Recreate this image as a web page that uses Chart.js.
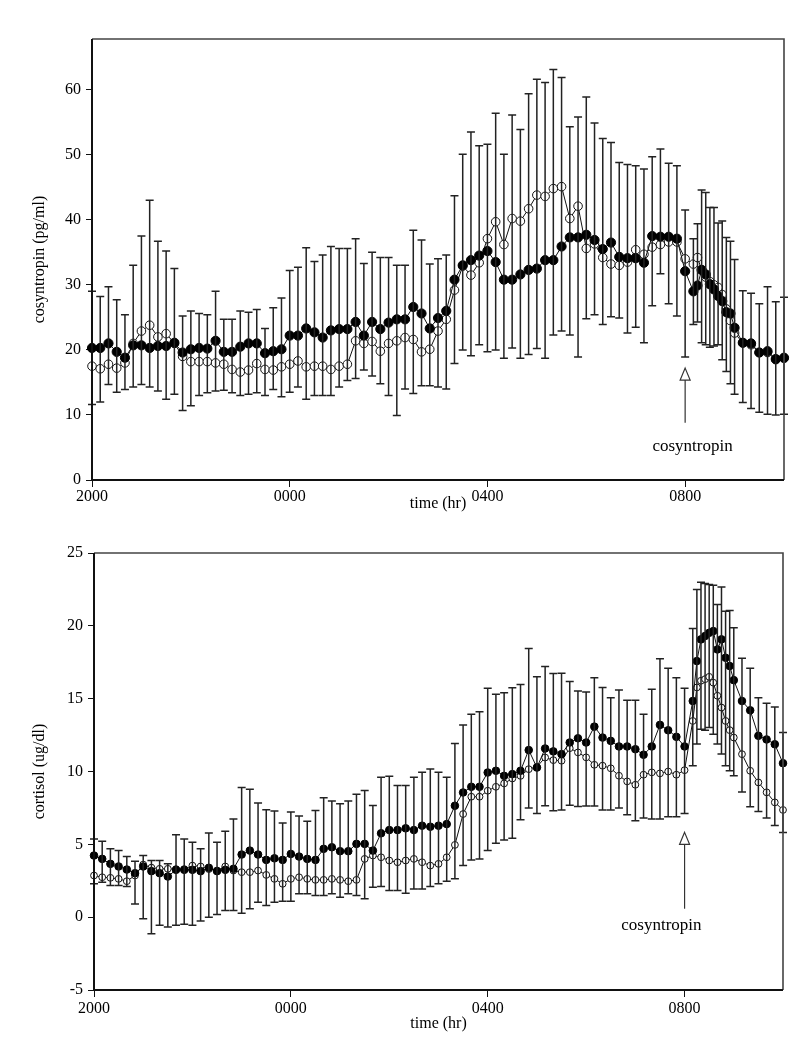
<!DOCTYPE html>
<html>
<head>
<meta charset="utf-8">
<script src="https://cdn.jsdelivr.net/npm/chart.js@4.4.1/dist/chart.umd.min.js"></script>
<style>
html,body{margin:0;padding:0;background:#fff;}
#wrap{position:relative;width:800px;height:1046px;overflow:hidden;}
#c1{position:absolute;left:0;top:0;}
#c2{position:absolute;left:0;top:520px;}
</style>
</head>
<body>
<div id="wrap">
<canvas id="c1" width="800" height="520"></canvas>
<canvas id="c2" width="800" height="526"></canvas>
</div>
<script>
// ---- sampling times (minutes after 20:00) ----
const sampleMinutes = [0,10,20,30,40,50,60,70,80,90,100,110,120,130,140,150,160,170,180,190,
200,210,220,230,240,250,260,270,280,290,300,310,320,330,340,350,360,370,380,390,
400,410,420,430,440,450,460,470,480,490,500,510,520,530,540,550,560,570,580,590,
600,610,620,630,640,650,660,670,680,690,700,710,720,
730,735,740,745,750,755,760,765,770,775,780,
790,800,810,820,830,840];

const xTickHours = [0, 4, 8, 12];
const xTickLabels = ['2000', '0000', '0400', '0800'];
const topYTicks = [0, 10, 20, 30, 40, 50, 60];
const bottomYTicks = [-5, 0, 5, 10, 15, 20, 25];
const cosyntropinHour = 12;

// ---- top panel: cosyntropin (pg/ml) ----
const topFilled = [20.3,20.3,21.0,19.7,18.8,20.7,20.7,20.3,20.6,20.6,
21.1,19.6,20.1,20.3,20.2,21.4,19.7,19.7,20.5,21.0,
21.0,19.5,19.8,20.1,22.2,22.2,23.3,22.7,21.9,23.0,
23.2,23.2,24.3,22.2,24.3,23.2,24.2,24.7,24.7,26.6,
25.6,23.3,24.9,26.0,30.8,33.0,33.8,34.5,35.2,33.5,
30.8,30.8,31.6,32.3,32.5,33.8,33.8,35.9,37.3,37.3,
37.7,36.9,35.5,36.5,34.3,34.1,34.1,33.4,37.5,37.4,
37.4,37.1,32.1,
29.0,29.9,32.3,31.6,30.1,29.3,28.3,27.5,25.8,25.6,23.4,
21.1,21.0,19.6,19.8,18.6,18.8];

const topOpen = [17.5,17.1,17.8,17.2,18.0,21.0,22.9,23.8,22.0,22.5,
21.0,19.0,18.2,18.2,18.2,18.0,17.8,17.0,16.6,16.9,
17.9,17.0,16.9,17.4,17.8,18.3,17.4,17.5,17.5,17.0,
17.5,17.8,21.4,21.0,21.3,19.8,21.0,21.4,21.9,21.6,
19.7,20.1,22.9,24.7,29.2,32.9,31.5,33.4,37.1,39.7,
36.2,40.2,39.8,41.7,43.8,43.6,44.8,45.1,40.2,42.1,
35.6,36.3,34.2,33.2,33.0,33.5,35.4,34.7,35.8,36.2,
36.6,36.6,34.0,
33.2,34.2,32.3,31.2,30.5,30.0,29.6,28.5,26.3,24.5,22.6,
21.1,20.8,19.6,19.6,18.5,18.7];

const topBarHigh = [29.0,28.2,29.7,27.7,25.4,33.0,37.5,43.0,36.7,35.2,
32.5,25.2,26.0,25.6,25.4,29.0,24.7,24.7,26.0,25.8,
26.2,23.3,26.5,28.0,32.2,32.7,35.7,33.6,34.6,35.9,
35.6,35.6,37.1,33.3,35.0,34.2,34.2,33.0,33.0,38.4,
36.9,33.2,34.0,34.6,43.7,50.1,53.5,51.4,51.6,56.4,
50.1,56.1,53.9,59.4,61.6,61.1,63.1,61.9,54.3,55.8,
58.9,54.9,52.5,51.9,48.8,48.5,48.3,47.8,49.7,50.9,
48.7,48.3,41.5,
37.1,39.4,44.6,44.2,41.9,41.9,39.5,39.8,37.3,36.7,33.9,
29.1,28.7,27.1,29.7,27.4,28.1];

const topBarLow = [11.6,12.0,14.7,13.5,13.9,14.3,14.7,14.3,13.7,12.4,
13.2,10.7,11.4,13.0,13.4,13.7,13.8,13.4,13.0,13.2,
13.4,13.0,13.9,12.8,13.5,14.3,12.4,13.0,13.0,13.0,
14.3,15.3,15.6,16.9,16.0,14.8,13.0,9.9,14.0,13.3,
14.5,14.5,14.3,14.0,17.9,20.0,19.1,20.8,19.7,20.0,
18.7,20.3,18.7,19.3,20.2,18.7,22.3,22.9,22.3,18.9,
24.8,25.4,23.9,25.1,24.9,22.6,23.5,21.1,26.8,31.7,
27.1,25.2,18.9,
23.9,24.3,21.1,20.8,20.4,20.6,20.8,18.5,16.7,14.8,13.2,
11.9,11.0,10.4,10.1,10.0,10.1];

// ---- bottom panel: cortisol (ug/dl) ----
const bottomFilled = [4.23,4.0,3.66,3.48,3.27,3.02,3.48,3.16,3.02,2.79,
3.25,3.25,3.25,3.16,3.39,3.16,3.25,3.32,4.3,4.57,
4.3,3.93,4.04,3.93,4.34,4.16,4.0,3.93,4.69,4.8,
4.53,4.53,5.03,5.03,4.57,5.76,5.98,5.98,6.1,5.98,
6.28,6.21,6.28,6.39,7.65,8.56,8.95,8.95,9.93,10.05,
9.7,9.82,10.05,11.47,10.27,11.58,11.38,11.19,11.99,12.28,
11.99,13.08,12.33,12.1,11.72,11.72,11.53,11.15,11.72,13.2,
12.83,12.38,11.72,
14.84,17.58,19.07,19.3,19.52,19.64,18.38,19.07,17.81,17.24,16.27,
14.84,14.2,12.45,12.2,11.87,10.57];

const bottomOpen = [2.86,2.74,2.7,2.63,2.47,2.86,3.61,3.4,3.32,3.32,
3.3,3.3,3.54,3.48,3.3,3.2,3.48,3.2,3.09,3.09,
3.2,2.9,2.63,2.29,2.63,2.74,2.63,2.56,2.56,2.63,
2.56,2.47,2.56,4.0,4.23,4.11,3.89,3.77,3.89,4.0,
3.77,3.54,3.66,4.11,4.96,7.08,8.27,8.27,8.68,8.95,
9.18,9.52,9.7,10.16,10.32,10.96,10.78,10.74,11.6,11.31,
10.97,10.46,10.4,10.22,9.71,9.32,9.09,9.78,9.94,9.87,
10.0,9.78,10.09,
13.47,15.77,16.23,16.34,16.5,16.1,15.2,14.39,13.47,12.84,12.33,
11.19,10.05,9.25,8.57,7.88,7.36];

const bottomBarHigh = [5.37,5.21,4.69,4.57,4.16,3.84,4.23,3.89,3.89,3.66,
5.66,5.37,5.14,4.69,5.78,5.14,5.89,6.74,8.9,8.79,
7.83,7.38,7.29,6.47,7.22,6.95,6.58,7.33,8.2,7.97,
7.79,7.97,8.43,8.7,7.67,9.61,9.67,9.04,9.04,9.61,
9.95,10.18,9.95,9.61,11.93,13.2,13.93,14.11,15.71,15.3,
15.41,15.75,15.98,18.45,16.51,17.2,16.72,16.74,16.17,15.53,
15.46,16.44,15.76,15.07,15.6,14.89,14.89,13.93,15.65,17.74,
17.08,16.44,15.71,
19.82,22.49,22.99,22.9,22.83,22.79,21.46,22.67,21.0,21.05,19.87,
17.77,17.08,15.07,14.68,14.43,12.68];

const bottomBarLow = [2.29,2.4,2.17,2.17,2.1,0.91,-0.11,-1.13,-0.56,-0.68,
-0.56,-0.49,-0.56,-0.27,0.0,0.18,0.46,0.46,0.27,0.57,
1.03,0.8,1.03,1.1,1.1,1.6,1.6,1.49,1.49,1.6,
1.37,1.6,1.49,1.26,2.06,2.1,1.83,1.83,1.65,1.94,
1.94,2.1,2.29,2.47,2.63,3.54,3.93,4.0,4.57,5.07,
5.3,5.41,6.69,7.49,7.12,7.65,7.31,7.35,7.69,7.6,
7.64,7.64,7.35,7.35,7.49,7.03,6.62,6.8,6.74,6.74,
6.89,6.89,7.12,
10.4,11.88,12.9,12.84,13.02,12.56,11.88,11.2,10.4,10.05,9.71,
8.59,7.58,7.26,6.81,6.3,5.82];

// ---- rendering ----
const FONT = "'Liberation Serif', 'Times New Roman', serif";
const hours = sampleMinutes.map(m => m / 60);
const toPts = arr => arr.map((v, i) => ({x: hours[i], y: v}));

const panelPlugin = {
  id: 'panelPlugin',
  afterDatasetsDraw(chart) {
    const o = chart.options.plugins.panelPlugin;
    const ctx = chart.ctx, xs = chart.scales.x, ys = chart.scales.y;
    ctx.save();
    ctx.strokeStyle = '#222';
    ctx.lineWidth = 1.5;
    const cap = o.capHalf;
    for (let i = 0; i < hours.length; i++) {
      const x = xs.getPixelForValue(hours[i]);
      const yh = ys.getPixelForValue(o.high[i]);
      const yl = ys.getPixelForValue(o.low[i]);
      ctx.beginPath();
      ctx.moveTo(x, yl); ctx.lineTo(x, yh);
      ctx.moveTo(x - cap, yh); ctx.lineTo(x + cap, yh);
      ctx.moveTo(x - cap, yl); ctx.lineTo(x + cap, yl);
      ctx.stroke();
    }
    ctx.restore();
  },
  afterDraw(chart) {
    const o = chart.options.plugins.panelPlugin;
    const ctx = chart.ctx, xs = chart.scales.x, ys = chart.scales.y;
    const a = chart.chartArea;
    ctx.save();
    // frame
    ctx.lineWidth = 1.6;
    ctx.strokeStyle = '#444';
    ctx.beginPath();
    ctx.moveTo(a.left, a.top); ctx.lineTo(a.right, a.top); ctx.lineTo(a.right, a.bottom);
    ctx.stroke();
    ctx.lineWidth = 2;
    ctx.strokeStyle = '#111';
    ctx.beginPath();
    ctx.moveTo(a.left, a.top); ctx.lineTo(a.left, a.bottom); ctx.lineTo(a.right, a.bottom);
    ctx.stroke();
    // y title
    ctx.fillStyle = '#000';
    ctx.font = '16px ' + FONT;
    ctx.textAlign = 'center';
    ctx.textBaseline = 'middle';
    ctx.save();
    ctx.translate(o.yTitleX, (a.top + a.bottom) / 2);
    ctx.rotate(-Math.PI / 2);
    ctx.fillText(o.yTitle, 0, 0);
    ctx.restore();
    // x title
    ctx.fillText('time (hr)', (a.left + a.right) / 2, a.bottom + o.xTitleOffset);
    // cosyntropin marker
    const ax = xs.getPixelForValue(cosyntropinHour);
    const tipY = ys.getPixelForValue(o.arrowTip);
    const endY = ys.getPixelForValue(o.arrowEnd);
    ctx.strokeStyle = '#333';
    ctx.lineWidth = 1.2;
    ctx.beginPath();
    ctx.moveTo(ax, tipY);
    ctx.lineTo(ax + 5, tipY + 12);
    ctx.lineTo(ax - 5, tipY + 12);
    ctx.closePath();
    ctx.fillStyle = '#fff';
    ctx.fill();
    ctx.stroke();
    ctx.beginPath();
    ctx.moveTo(ax, tipY + 12); ctx.lineTo(ax, endY);
    ctx.stroke();
    ctx.fillStyle = '#000';
    ctx.font = '17px ' + FONT;
    ctx.fillText('cosyntropin', xs.getPixelForValue(o.labelX), ys.getPixelForValue(o.labelY));
    ctx.restore();
  }
};

function makePanel(canvasId, cfg) {
  return new Chart(document.getElementById(canvasId), {
    type: 'line',
    data: {
      datasets: [
        {
          data: toPts(cfg.filled), clip: false,
          borderColor: '#111', borderWidth: 1, tension: 0,
          pointRadius: cfg.rFilled, pointBackgroundColor: '#000', pointBorderColor: '#000', pointBorderWidth: 1
        },
        {
          data: toPts(cfg.open), clip: false,
          borderColor: '#111', borderWidth: 1, tension: 0,
          pointRadius: cfg.rOpen, pointBackgroundColor: '#fff', pointBorderColor: '#111', pointBorderWidth: 1
        }
      ]
    },
    options: {
      responsive: false,
      animation: false,
      events: [],
      layout: {padding: cfg.padding},
      plugins: {
        legend: {display: false},
        tooltip: {enabled: false},
        panelPlugin: cfg.plugin
      },
      scales: {
        x: {
          type: 'linear', min: 0, max: 14,
          afterFit: s => { s.height = cfg.xHeight; },
          afterBuildTicks: s => { s.ticks = xTickHours.map(v => ({value: v})); },
          grid: {drawOnChartArea: false, drawTicks: true, tickLength: 7, color: '#111', lineWidth: 1},
          border: {display: false},
          ticks: {
            autoSkip: false, maxRotation: 0, color: '#000', padding: cfg.xPad,
            font: {family: FONT, size: 16},
            callback: (v, i) => xTickLabels[i]
          }
        },
        y: {
          type: 'linear', min: cfg.yMin, max: cfg.yMax,
          afterFit: s => { s.width = cfg.yWidth; },
          afterBuildTicks: s => { s.ticks = cfg.yTicks.map(v => ({value: v})); },
          grid: {drawOnChartArea: false, drawTicks: true, tickLength: 6, color: '#111', lineWidth: 1},
          border: {display: false},
          ticks: {
            color: '#000', padding: 5,
            font: {family: FONT, size: 16},
            callback: (v, i) => String(cfg.yTicks[i])
          }
        }
      }
    },
    plugins: [panelPlugin]
  });
}

makePanel('c1', {
  filled: topFilled, open: topOpen,
  rFilled: 4.6, rOpen: 4.3,
  padding: {top: 39, right: 16, left: 0, bottom: 0},
  xHeight: 40, xPad: 0, yWidth: 92,
  yMin: 0, yMax: 67.8, yTicks: topYTicks,
  plugin: {
    high: topBarHigh, low: topBarLow, capHalf: 4,
    yTitle: 'cosyntropin (pg/ml)', yTitleX: 40, xTitleOffset: 24,
    arrowTip: 17.2, arrowEnd: 8.8, labelX: 12.15, labelY: 5.1
  }
});

makePanel('c2', {
  filled: bottomFilled, open: bottomOpen,
  rFilled: 3.8, rOpen: 3.4,
  padding: {top: 33, right: 17, left: 0, bottom: 0},
  xHeight: 56, xPad: 2, yWidth: 94,
  yMin: -5, yMax: 25, yTicks: bottomYTicks,
  plugin: {
    high: bottomBarHigh, low: bottomBarLow, capHalf: 4,
    yTitle: 'cortisol (ug/dl)', yTitleX: 40, xTitleOffset: 34,
    arrowTip: 5.82, arrowEnd: 0.58, labelX: 11.53, labelY: -0.57
  }
});
</script>
</body>
</html>
